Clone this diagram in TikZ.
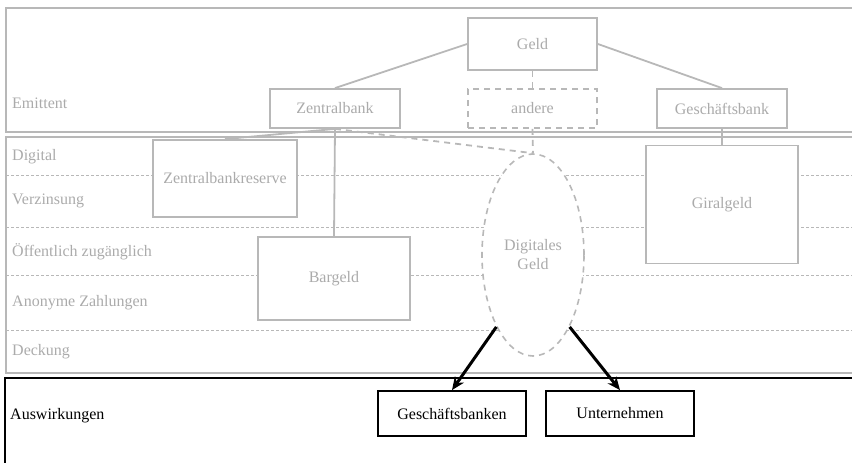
\documentclass[tikz,border=0pt]{standalone}
\usepackage{fontspec}
\setmainfont{Liberation Serif}
\usetikzlibrary{shapes.geometric,arrows.meta}

\definecolor{lightline}{HTML}{B8B8B8}
\definecolor{lighttext}{HTML}{ABABAB}

\tikzset{
    panel/.style={draw=lightline, line width=1.4pt},
    rowline/.style={draw=lightline, line width=0.5pt, dash pattern=on 3pt off 2pt},
    rowlabel/.style={anchor=west, inner sep=0pt, text=lighttext, font=\fontsize{16}{19}\selectfont},
    graybox/.style={draw=lightline, fill=white, line width=1.8pt, inner sep=0pt, text=lighttext, font=\fontsize{16}{19}\selectfont},
    blackbox/.style={draw=black, line width=1.8pt, inner sep=0pt, minimum width=148pt, minimum height=45pt, font=\fontsize{16}{19}\selectfont},
    link/.style={draw=lightline, line width=1.8pt},
    dlink/.style={link, dash pattern=on 6pt off 5pt},
    effect/.style={draw=black, line width=3pt, -{Stealth[length=13pt,width=11pt]}}
}

\begin{document}
\begin{tikzpicture}[x=1pt, y=-1pt]
        \useasboundingbox (0,0) rectangle (852,463);
        % panels
        \draw[panel] (6,8) rectangle (856,132);
        \draw[panel] (6,137) rectangle (856,373);
        \draw[black, line width=1.4pt] (5,378) rectangle (856,468);
        \foreach \y in {175,227,275,330} {
            \draw[rowline] (6,\y) -- (852,\y);
        }
        % row labels
        \foreach \y/\t in {103/Emittent,157/Digital,201/Verzinsung,252/Öffentlich zugänglich,303/Anonyme Zahlungen,352/Deckung} {
            \node[rowlabel] at (12,\y) {\t};
        }
        \node[rowlabel, text=black] (auswirk) at (10,416) {Auswirkungen};

        % money tree
        \node[graybox, minimum width=129pt, minimum height=52pt] (geld) at (532.5,44) {Geld};
        \node[graybox, minimum width=129pt, minimum height=39pt, dash pattern=on 6pt off 5pt] (andere) at (532.5,108.5) {andere};
        \node[graybox, minimum width=130pt, minimum height=39pt] (zbank) at (335,108.5) {Zentralbank};
        \node[graybox, minimum width=130pt, minimum height=39pt] (gbank) at (722,108.5) {Geschäftsbank};
        \node[graybox, minimum width=144pt, minimum height=77pt] (zbreserve) at (225,178.5) {Zentralbankreserve};
        \node[graybox, minimum width=152pt, minimum height=83pt] (bargeld) at (334,278.5) {Bargeld};
        \node[graybox, minimum width=152pt, minimum height=118pt] (giralgeld) at (722,204.5) {Giralgeld};
        \node[graybox, ellipse, minimum width=102pt, minimum height=202pt, align=center, line width=1.6pt, dash pattern=on 6pt off 5pt] (digital) at (533,255) {Digitales\\Geld};

        \draw[link] (geld.west) -- (zbank.north);
        \draw[link] (geld.east) -- (gbank.north);
        \draw[dlink] (geld.south) -- (andere.north);
        \draw[dlink] (andere.south) -- (digital.north);
        \draw[link] (zbank.south) -- (zbreserve.north);
        \draw[link] (zbank.south) -- (bargeld.north);
        \draw[dlink] (zbank.south) -- (digital.north);
        \draw[link] (gbank.south) -- (giralgeld.north);

        % effects
        \node[blackbox] (gbanken) at (452,413.5) {Geschäftsbanken};
        \node[blackbox] (unternehmen) at (620,413.5) {Unternehmen};
        \draw[effect] (digital.243) -- (gbanken.north);
        \draw[effect] (digital.297) -- (unternehmen.north);
\end{tikzpicture}
\end{document}
